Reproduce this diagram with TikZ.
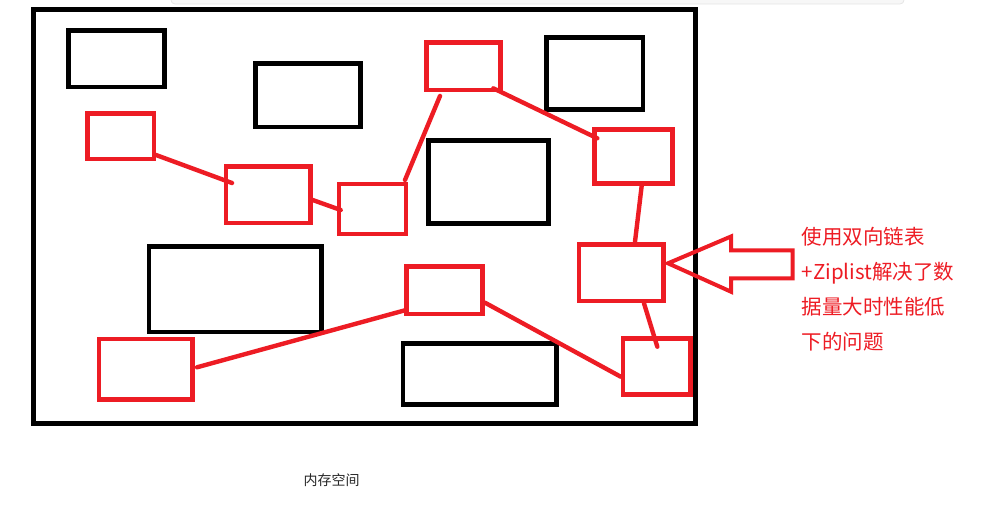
\documentclass[tikz,border=0pt]{standalone}
\usepackage{fontspec}
\newfontfamily\cjk{Noto Sans CJK SC}
\usetikzlibrary{calc}
\definecolor{pred}{HTML}{ED1C24}
\tikzset{
  blk/.style={draw=black,line width=4.6pt,inner sep=0pt,outer sep=0pt,rectangle},
  redbox/.style={draw=pred,line width=4.6pt,inner sep=0pt,outer sep=0pt,rectangle},
  link/.style={draw=pred,line width=4.4pt,line cap=round},
}
\begin{document}
\begin{tikzpicture}[x=1pt,y=-1pt]
\useasboundingbox (0,0) rectangle (997,506);
% faint bar at top
\fill[black!3,rounded corners=4pt] (171,-12) rectangle (904,4);
\draw[black!10,line width=0.8pt,rounded corners=4pt] (171,-12) rectangle (904,4);
% outer frame
\node[draw=black,line width=5pt,inner sep=0pt,minimum width=661.5pt,minimum height=413.5pt] (frame) at (364.25,216.25) {};
% black boxes
\node[blk,minimum width=96pt,minimum height=56.5pt] (b1) at (116.5,58.75) {};
\node[blk,minimum width=105pt,minimum height=63.7pt] (b2) at (308,95.15) {};
\node[blk,minimum width=96.5pt,minimum height=72pt] (b3) at (594.75,73.5) {};
\node[blk,minimum width=120.2pt,minimum height=82.6pt] (b4) at (488.4,182) {};
\node[blk,minimum width=153.3pt,minimum height=61pt] (b5) at (479.65,373.8) {};
\node[blk,minimum width=172.7pt,minimum height=85.3pt] (b6) at (235.15,289.35) {};
% red boxes
\node[redbox,minimum width=66.5pt,minimum height=45.5pt] (r1) at (120.75,136.25) {};
\node[redbox,minimum width=84.3pt,minimum height=56.3pt] (r2) at (268.15,194.85) {};
\node[redbox,minimum width=67pt,minimum height=50pt] (r3) at (372.5,209) {};
\node[redbox,minimum width=74pt,minimum height=47.5pt] (r4) at (463.5,66.25) {};
\node[redbox,minimum width=78pt,minimum height=54pt] (r5) at (633.5,156.3) {};
\node[redbox,minimum width=84.3pt,minimum height=56.5pt] (r6) at (621.15,272.75) {};
\node[redbox,minimum width=67.5pt,minimum height=56.2pt] (r7) at (656.75,366.4) {};
\node[redbox,minimum width=76pt,minimum height=47.1pt] (r8) at (444.7,290.25) {};
\node[redbox,minimum width=93.4pt,minimum height=60.7pt] (r9) at (145.5,369.15) {};
% links
\draw[link] ([shift={(2,-4)}]r1.south east) -- ([shift={(6,16.3)}]r2.north west);
\draw[link] ([shift={(2.4,5.15)}]r2.east) -- ([shift={(1.7,1)}]r3.west);
\draw[link] ([shift={(-1,-4)}]r3.north east) -- ([shift={(13.5,6)}]r4.south west);
\draw[link] ([shift={(-7.2,-1.7)}]r4.south east) -- ([shift={(2.8,9)}]r5.north west);
\draw[link] ([shift={(8.2,2.4)}]r5.south) -- ([shift={(13.85,-2.8)}]r6.north);
\draw[link] ([shift={(22.85,2.3)}]r6.south) -- ([shift={(0.55,8.4)}]r7.north);
\draw[link] ([shift={(2.3,12.45)}]r8.east) -- ([shift={(-2.3,10.3)}]r7.west);
\draw[link] ([shift={(4.8,-1.85)}]r9.east) -- ([shift={(-0.7,19.75)}]r8.west);
% block arrow
\draw[pred,line width=4pt,line join=miter] (668,263.3) -- (731,236.5) -- (731,250.3) -- (792.5,250.3) -- (792.5,278.3) -- (731,278.3) -- (731,291.7) -- cycle;
% texts
\node[anchor=north west,inner sep=0pt,align=left,text=pred,font=\cjk\fontsize{20.5pt}{35pt}\selectfont] (note) at (801.7,227.5) {使用双向链表\\+Ziplist解决了数\\据量大时性能低\\下的问题};
\node[inner sep=0pt,text=black!85,font=\cjk\fontsize{14pt}{16pt}\selectfont] (cap) at (331.7,480.5) {内存空间};
\end{tikzpicture}
\end{document}
